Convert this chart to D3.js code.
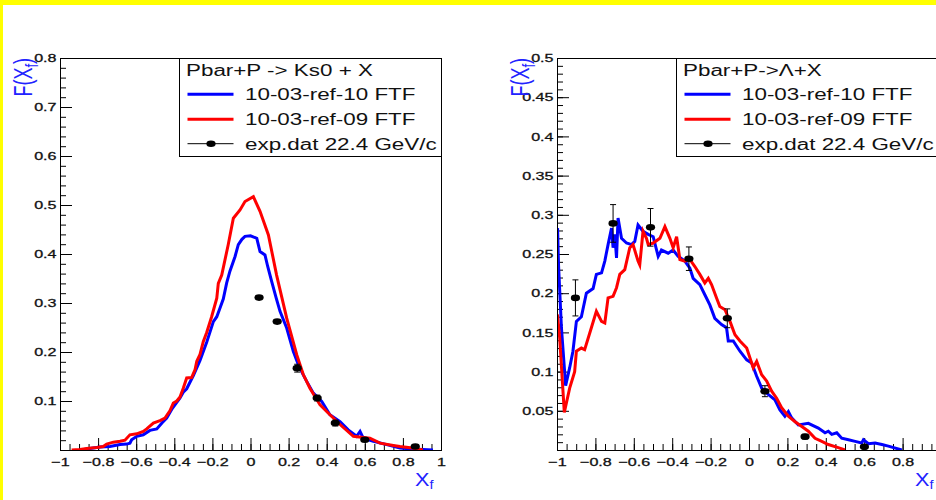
<!DOCTYPE html>
<html>
<head>
<meta charset="utf-8">
<script src="https://cdn.jsdelivr.net/npm/d3@7"></script>
<style>
  html, body { margin: 0; padding: 0; background: #fff; }
  svg { display: block; }
</style>
</head>
<body>
<svg id="chart" width="936" height="500"></svg>
<script>
// ---------- Pbar+P -> Ks0 + X ----------
const ks0Ref10Xf = [-0.886,-0.843,-0.790,-0.738,-0.685,-0.650,-0.633,-0.624,-0.597,-0.563,-0.528,-0.492,-0.465,-0.440,-0.410,-0.387,-0.370,-0.353,-0.335,-0.300,-0.265,-0.230,-0.195,-0.177,-0.160,-0.143,-0.125,-0.108,-0.081,-0.064,-0.045,-0.029,0.000,0.033,0.050,0.076,0.090,0.111,0.135,0.155,0.190,0.225,0.251,0.275,0.295,0.330,0.374,0.417,0.470,0.513,0.557,0.575,0.592,0.645,0.715,0.785,0.850,0.958];
const ks0Ref10 = [0.000,0.003,0.006,0.007,0.011,0.012,0.014,0.021,0.028,0.031,0.040,0.043,0.055,0.065,0.085,0.097,0.106,0.118,0.125,0.152,0.183,0.220,0.262,0.272,0.290,0.308,0.341,0.365,0.395,0.419,0.430,0.436,0.437,0.432,0.405,0.398,0.375,0.344,0.310,0.283,0.249,0.201,0.174,0.155,0.140,0.116,0.099,0.072,0.058,0.041,0.028,0.038,0.024,0.018,0.011,0.004,0.002,0.000];

const ks0Ref09Xf = [-0.939,-0.895,-0.860,-0.807,-0.773,-0.755,-0.720,-0.685,-0.659,-0.633,-0.597,-0.563,-0.545,-0.510,-0.475,-0.449,-0.423,-0.405,-0.387,-0.370,-0.353,-0.335,-0.309,-0.291,-0.282,-0.265,-0.248,-0.230,-0.204,-0.177,-0.169,-0.151,-0.117,-0.090,-0.055,-0.029,0.015,0.050,0.094,0.137,0.190,0.243,0.277,0.312,0.365,0.417,0.470,0.540,0.627,0.680,0.750,0.785,0.850,0.905];
const ks0Ref09 = [0.000,0.001,0.003,0.005,0.007,0.012,0.016,0.018,0.020,0.031,0.033,0.038,0.043,0.055,0.060,0.065,0.080,0.096,0.100,0.108,0.126,0.147,0.148,0.164,0.181,0.195,0.221,0.240,0.272,0.310,0.340,0.357,0.419,0.473,0.490,0.507,0.517,0.487,0.439,0.357,0.269,0.194,0.154,0.126,0.092,0.072,0.052,0.028,0.024,0.014,0.009,0.007,0.004,0.000];

const ks0ExpXf  = [0.045, 0.140, 0.245, 0.350, 0.445, 0.600, 0.865];
const ks0Exp    = [0.311, 0.262, 0.167, 0.106, 0.055, 0.021, 0.007];
const ks0ExpErr = [0.004, 0.004, 0.008, 0.006, 0.006, 0.004, 0.003];

// ---------- Pbar+P -> Lambda + X ----------
const lamRef10Xf = [-0.997,-0.992,-0.977,-0.955,-0.934,-0.917,-0.899,-0.873,-0.847,-0.812,-0.795,-0.768,-0.751,-0.734,-0.716,-0.708,-0.699,-0.690,-0.682,-0.664,-0.638,-0.612,-0.595,-0.578,-0.552,-0.525,-0.499,-0.473,-0.456,-0.421,-0.395,-0.369,-0.334,-0.308,-0.291,-0.256,-0.230,-0.204,-0.178,-0.143,-0.117,-0.108,-0.082,-0.047,-0.012,0.014,0.040,0.066,0.100,0.135,0.161,0.187,0.205,0.222,0.257,0.309,0.361,0.396,0.413,0.431,0.457,0.483,0.518,0.553,0.587,0.596,0.622,0.657,0.692,0.726,0.796];
const lamRef10 = [0.283,0.236,0.156,0.082,0.105,0.126,0.164,0.170,0.200,0.206,0.224,0.226,0.241,0.262,0.283,0.258,0.275,0.245,0.296,0.270,0.264,0.262,0.266,0.287,0.279,0.275,0.272,0.247,0.255,0.251,0.255,0.247,0.241,0.232,0.219,0.211,0.198,0.185,0.168,0.160,0.156,0.139,0.139,0.126,0.115,0.111,0.094,0.079,0.071,0.064,0.051,0.043,0.049,0.041,0.032,0.034,0.028,0.022,0.024,0.020,0.022,0.015,0.013,0.011,0.009,0.013,0.008,0.009,0.007,0.005,0.000];

const lamRef09Xf = [-0.998,-0.986,-0.962,-0.934,-0.908,-0.899,-0.873,-0.856,-0.821,-0.795,-0.768,-0.751,-0.734,-0.708,-0.690,-0.673,-0.647,-0.621,-0.604,-0.578,-0.569,-0.552,-0.534,-0.525,-0.499,-0.464,-0.438,-0.412,-0.395,-0.377,-0.360,-0.334,-0.308,-0.282,-0.256,-0.230,-0.212,-0.195,-0.169,-0.152,-0.125,-0.099,-0.073,-0.047,-0.012,0.022,0.040,0.066,0.092,0.118,0.144,0.170,0.205,0.240,0.275,0.309,0.344,0.379,0.413,0.465,0.500];
const lamRef09 = [0.173,0.143,0.048,0.079,0.100,0.126,0.130,0.128,0.156,0.177,0.164,0.162,0.194,0.196,0.207,0.224,0.230,0.258,0.262,0.241,0.236,0.279,0.270,0.262,0.264,0.270,0.285,0.270,0.258,0.272,0.243,0.241,0.243,0.234,0.224,0.213,0.219,0.211,0.194,0.183,0.179,0.164,0.147,0.139,0.130,0.105,0.113,0.096,0.088,0.075,0.066,0.054,0.043,0.036,0.030,0.024,0.015,0.011,0.007,0.003,0.000];

const lamExpXf  = [-0.904, -0.708, -0.513, -0.313, -0.113, 0.083, 0.292, 0.601];
const lamExp    = [0.194, 0.289, 0.284, 0.244, 0.168, 0.075, 0.017, 0.004];
const lamExpErr = [0.023, 0.024, 0.024, 0.015, 0.012, 0.007, 0.003, 0.002];

// ---------- axes and legend text ----------
const xfTicks = [-1, -0.8, -0.6, -0.4, -0.2, 0, 0.2, 0.4, 0.6, 0.8, 1];
const ks0YTicks = [0.1, 0.2, 0.3, 0.4, 0.5, 0.6, 0.7, 0.8];
const lamYTicks = [0.05, 0.1, 0.15, 0.2, 0.25, 0.3, 0.35, 0.4, 0.45, 0.5];
const seriesNames = ["10-03-ref-10 FTF", "10-03-ref-09 FTF", "exp.dat 22.4 GeV/c"];
const ks0Title = "Pbar+P -> Ks0 + X";
const lamTitle = "Pbar+P->\u039B+X";

const FONT = '"Liberation Sans", Arial, Helvetica, sans-serif';
const SX = 1.4;            // glyphs are drawn horizontally widened
const BLUE = "#0000ff", RED = "#ff0000";

const svg = d3.select("#chart");
svg.append("rect").attr("width", 936).attr("height", 500).attr("fill", "#fff");
// yellow canvas edges
svg.append("rect").attr("x", 0).attr("y", 0).attr("width", 936).attr("height", 5).attr("fill", "#ffff00");
svg.append("rect").attr("x", 0).attr("y", 0).attr("width", 3).attr("height", 500).attr("fill", "#ffff00");

function label(g, x, y, str, size, anchor, sx) {
  return g.append("text")
    .attr("transform", `translate(${x},${y}) scale(${sx || SX},1)`)
    .attr("font-family", FONT).attr("font-size", size)
    .attr("text-anchor", anchor || "start").attr("fill", "#111")
    .text(str);
}

function drawPanel(cfg, idx) {
  const g = svg.append("g");
  const x = d3.scaleLinear().domain([-1, 1]).range([cfg.left, cfg.right]);
  const y = d3.scaleLinear().domain([0, cfg.yMax]).range([cfg.bottom, cfg.top]);

  const clipId = "clip" + idx;
  svg.append("clipPath").attr("id", clipId).append("rect")
    .attr("x", cfg.left).attr("y", cfg.top)
    .attr("width", cfg.right - cfg.left).attr("height", cfg.bottom - cfg.top);

  // minor ticks
  const yMinor = d3.range(cfg.yMinorStep, cfg.yMax + 1e-9, cfg.yMinorStep);
  const gyMinor = g.append("g").attr("transform", `translate(${cfg.left},0)`)
    .call(d3.axisLeft(y).tickValues(yMinor).tickSize(-6).tickFormat(""));
  gyMinor.select(".domain").remove();
  const xMinor = d3.range(-1, 1.0001, 0.05);
  const gxMinor = g.append("g").attr("transform", `translate(0,${cfg.bottom})`)
    .call(d3.axisBottom(x).tickValues(xMinor).tickSize(-6).tickFormat(""));
  gxMinor.select(".domain").remove();

  // major ticks with labels
  const gy = g.append("g").attr("transform", `translate(${cfg.left},0)`)
    .call(d3.axisLeft(y).tickValues(cfg.yTicks)
      .tickFormat(d => String(+d.toFixed(2)))
      .tickSizeInner(-12).tickSizeOuter(0).tickPadding(2.5));
  gy.select(".domain").remove();
  gy.attr("font-family", FONT).attr("font-size", 11.5).attr("color", "#000");
  gy.selectAll("text").attr("transform", `scale(${SX},1)`).attr("fill", "#111")
    .attr("stroke", "#111").attr("stroke-width", 0.3);

  const gx = g.append("g").attr("transform", `translate(0,${cfg.bottom})`)
    .call(d3.axisBottom(x).tickValues(xfTicks).tickFormat(d3.format("~g"))
      .tickSizeInner(-12).tickSizeOuter(0).tickPadding(8));
  gx.select(".domain").remove();
  gx.attr("font-family", FONT).attr("font-size", 11.5).attr("color", "#000");
  gx.selectAll("text").attr("transform", `scale(${SX},1)`).attr("fill", "#111")
    .attr("stroke", "#111").attr("stroke-width", 0.3);

  // curves
  const line = d3.line().x(d => x(d[0])).y(d => y(d[1]));
  const curves = g.append("g").attr("clip-path", `url(#${clipId})`);
  cfg.series.forEach(s => {
    curves.append("path").datum(d3.zip(s.xf, s.v))
      .attr("d", line).attr("fill", "none")
      .attr("stroke", s.color).attr("stroke-width", 3).attr("stroke-linejoin", "miter");
  });

  // measured points with error bars
  const pts = d3.zip(cfg.exp.xf, cfg.exp.v, cfg.exp.err);
  const pg = curves.append("g");
  pts.forEach(([xf, v, e]) => {
    const cx = x(xf);
    pg.append("line").attr("x1", cx).attr("x2", cx).attr("y1", y(v + e)).attr("y2", y(Math.max(0, v - e)))
      .attr("stroke", "#000").attr("stroke-width", 1);
    [v + e, Math.max(0, v - e)].forEach(ev => {
      pg.append("line").attr("x1", cx - 3).attr("x2", cx + 3).attr("y1", y(ev)).attr("y2", y(ev))
        .attr("stroke", "#000").attr("stroke-width", 1);
    });
    pg.append("ellipse").attr("cx", cx).attr("cy", y(v)).attr("rx", 4.6).attr("ry", 3.3).attr("fill", "#000");
  });

  // frame
  g.append("rect").attr("x", cfg.left + 0.5).attr("y", cfg.top + 0.5)
    .attr("width", cfg.right - cfg.left).attr("height", cfg.bottom - cfg.top)
    .attr("fill", "none").attr("stroke", "#000").attr("stroke-width", 1);

  // legend
  const lx = cfg.legendX;
  g.append("rect").attr("x", lx + 0.5).attr("y", cfg.top + 0.5)
    .attr("width", cfg.legendW).attr("height", 98)
    .attr("fill", "#fff").attr("stroke", "#000").attr("stroke-width", 1);
  label(g, lx + 7, 76, cfg.title, 16);
  const rows = [94.3, 119.3, 143.7];
  const colors = [BLUE, RED, "#000"];
  rows.forEach((ry, i) => {
    g.append("line").attr("x1", lx + 8.5).attr("x2", lx + 54.5).attr("y1", ry).attr("y2", ry)
      .attr("stroke", colors[i]).attr("stroke-width", i < 2 ? 3 : 1);
    if (i === 2) {
      g.append("ellipse").attr("cx", lx + 32).attr("cy", ry).attr("rx", 4.6).attr("ry", 3.3).attr("fill", "#000");
    }
    label(g, lx + 66, ry + 6, seriesNames[i], 16);
  });

  // axis titles
  const yt = g.append("text")
    .attr("transform", `translate(${cfg.left - 28},${cfg.top}) scale(${SX},1) rotate(-90)`)
    .attr("font-family", FONT).attr("font-size", 18).attr("text-anchor", "end").attr("fill", "#2222ff");
  yt.append("tspan").text("F(X");
  yt.append("tspan").attr("font-size", 13).attr("dy", 4).text("f");
  yt.append("tspan").attr("dy", -4).text(")");

  const xt = g.append("text")
    .attr("transform", `translate(${cfg.right - 26},486) scale(1.2,1)`)
    .attr("font-family", FONT).attr("font-size", 18).attr("fill", "#2222ff");
  xt.append("tspan").text("X");
  xt.append("tspan").attr("font-size", 12).attr("dy", 3).text("f");
}

drawPanel({
  left: 60, right: 441, top: 58, bottom: 450, yMax: 0.8, yMinorStep: 0.02,
  yTicks: ks0YTicks, legendX: 179, legendW: 262, title: ks0Title,
  series: [
    { xf: ks0Ref10Xf, v: ks0Ref10, color: BLUE },
    { xf: ks0Ref09Xf, v: ks0Ref09, color: RED }
  ],
  exp: { xf: ks0ExpXf, v: ks0Exp, err: ks0ExpErr }
}, 0);

drawPanel({
  left: 557, right: 941, top: 58, bottom: 450, yMax: 0.5, yMinorStep: 0.01,
  yTicks: lamYTicks, legendX: 676, legendW: 270, title: lamTitle,
  series: [
    { xf: lamRef10Xf, v: lamRef10, color: BLUE },
    { xf: lamRef09Xf, v: lamRef09, color: RED }
  ],
  exp: { xf: lamExpXf, v: lamExp, err: lamExpErr }
}, 1);
</script>
</body>
</html>
